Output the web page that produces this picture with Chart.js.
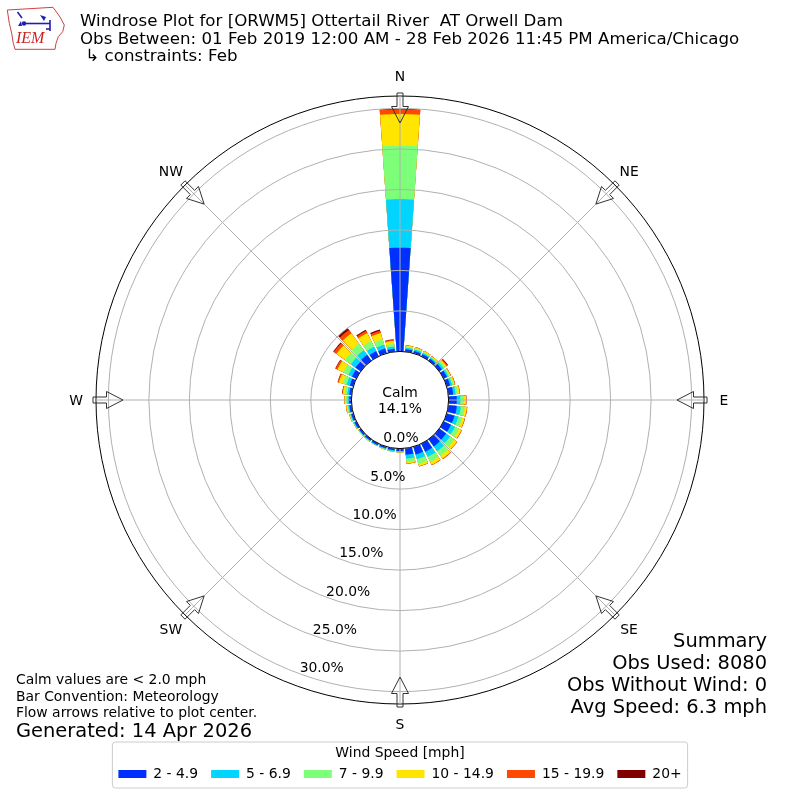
<!DOCTYPE html>
<html>
<head>
<meta charset="utf-8">
<script src="https://cdn.jsdelivr.net/npm/chart.js@4.4.1/dist/chart.umd.min.js"></script>
<style>
html,body{margin:0;padding:0;background:#ffffff;}
#c{display:block;}
</style>
</head>
<body>
<canvas id="c" width="800" height="800"></canvas>
<script>
// ---------------- DATA ----------------
const dirDeg = [0,10,20,30,40,50,60,70,80,90,100,110,120,130,140,150,160,170,180,190,200,210,220,230,240,250,260,270,280,290,300,310,320,330,340,350];
const speedBins = ['2 - 4.9','5 - 6.9','7 - 9.9','10 - 14.9','15 - 19.9','20+'];
const binColors = ['#0030ff','#00d4ff','#7dff7a','#ffe500','#ff4800','#800000'];
// percent of observations per direction (non-cumulative)
const pct2to5   = [12.8,0.30,0.30,0.30,0.30,0.40,0.45,0.45,0.60,1.00,1.05,1.00,1.00,1.05,1.10,1.10,1.00,0.80,0.30,0.25,0.22,0.22,0.22,0.22,0.25,0.25,0.28,0.28,0.30,0.45,0.60,0.80,0.90,0.70,0.60,0.35];
const pct5to7   = [6.0,0.20,0.20,0.16,0.15,0.25,0.20,0.25,0.30,0.45,0.50,0.50,0.55,0.60,0.70,0.70,0.60,0.50,0.10,0.10,0.10,0.08,0.08,0.08,0.10,0.12,0.15,0.20,0.25,0.40,0.50,0.70,0.70,0.60,0.50,0.30];
const pct7to10  = [6.6,0.15,0.15,0.14,0.13,0.25,0.18,0.20,0.30,0.45,0.48,0.50,0.55,0.65,0.70,0.70,0.60,0.40,0.06,0.05,0.05,0.04,0.04,0.04,0.05,0.08,0.14,0.20,0.30,0.50,0.70,0.90,1.00,0.80,0.70,0.35];
const pct10to15 = [3.9,0.13,0.13,0.12,0.10,0.20,0.12,0.15,0.20,0.25,0.28,0.30,0.35,0.40,0.45,0.40,0.30,0.20,0.02,0.02,0.02,0.02,0.02,0.02,0.03,0.06,0.12,0.18,0.25,0.50,0.80,1.30,1.60,1.10,0.80,0.35];
const pct15to20 = [0.6,0.02,0.02,0.03,0.02,0.15,0.05,0.05,0.05,0.05,0.05,0.05,0.05,0.05,0.08,0.05,0.05,0.03,0,0,0,0,0,0,0,0.01,0.03,0.05,0.08,0.15,0.25,0.40,0.50,0.30,0.30,0.15];
const pct20plus = [0.05,0,0,0,0,0.08,0,0,0,0,0,0,0,0,0,0,0,0,0,0,0,0,0,0,0,0,0,0,0.02,0.02,0.05,0.10,0.30,0.14,0.15,0.05];
const calmPercent = 14.1;
const radialTicks = [0,5,10,15,20,25,30];
const compassLabels = ['N','NE','E','SE','S','SW','W','NW'];

const titleLines = [
  'Windrose Plot for [ORWM5] Ottertail River  AT Orwell Dam',
  'Obs Between: 01 Feb 2019 12:00 AM - 28 Feb 2026 11:45 PM America/Chicago',
  ' \u21b3 constraints: Feb'
];
const noteLines = ['Calm values are < 2.0 mph','Bar Convention: Meteorology','Flow arrows relative to plot center.'];
const generatedText = 'Generated: 14 Apr 2026';
const summaryLines = ['Summary','Obs Used: 8080','Obs Without Wind: 0','Avg Speed: 6.3 mph'];

// ---------------- BUILD ----------------
const FONT = "'DejaVu Sans', sans-serif";
const R_MIN = -6, R_MAX = 31.53;
const BAR_DEG = 8, GAP_DEG = 2;
const series = [pct2to5, pct5to7, pct7to10, pct10to15, pct15to20, pct20plus];

// cumulative stack per direction
const cumulative = series.map((s, k) => dirDeg.map((_, d) => {
  let t = 0; for (let j = 0; j <= k; j++) t += series[j][d]; return t;
}));

// slots: half of N bar, gap, then (bar, gap) for each other direction, other half of N bar
function toSlots(vals) {
  const out = [vals[0], R_MIN];
  for (let d = 1; d < vals.length; d++) { out.push(vals[d]); out.push(R_MIN); }
  out.push(vals[0]);
  return out;
}
function slotAngle(i, n) {
  if (i === 0 || i === n - 1) return BAR_DEG / 2;
  return (i % 2 === 1) ? GAP_DEG : BAR_DEG;
}

const datasets = cumulative.map((vals, k) => {
  const data = toSlots(vals);
  return {
    label: speedBins[k],
    data: data,
    backgroundColor: binColors[k],
    borderWidth: 0,
    angle: (c) => slotAngle(c.dataIndex, data.length)
  };
});

function txt(ctx, s, x, y, size, align, color, family, style) {
  ctx.font = (style || '') + ' ' + size + 'px ' + (family || FONT);
  ctx.textAlign = align || 'left';
  ctx.textBaseline = 'alphabetic';
  ctx.fillStyle = color || '#000';
  ctx.fillText(s, x, y);
}

function drawLogo(ctx) {
  ctx.save();
  ctx.strokeStyle = '#d04040';
  ctx.lineWidth = 1;
  const pts = [[7.3,10],[53,7.3],[55,10],[60,17],[64.3,25],[62.7,31.7],[58.3,36.7],[56,43.3],[55,49.3],[15,49.3],[13.3,43.3],[11.7,33.3],[9.3,23.3]];
  ctx.beginPath();
  pts.forEach((p, i) => i ? ctx.lineTo(p[0], p[1]) : ctx.moveTo(p[0], p[1]));
  ctx.closePath();
  ctx.stroke();
  ctx.strokeStyle = '#2020b0';
  ctx.fillStyle = '#2020b0';
  ctx.lineWidth = 1.6;
  ctx.beginPath(); ctx.moveTo(24, 23.5); ctx.lineTo(50, 23.5); ctx.stroke();
  ctx.beginPath(); ctx.moveTo(17.5, 12); ctx.lineTo(22, 18); ctx.stroke();
  ctx.beginPath(); ctx.arc(24, 23.5, 2.2, 0, Math.PI * 2); ctx.fill();
  ctx.beginPath(); ctx.moveTo(18, 26); ctx.lineTo(21, 21); ctx.lineTo(22, 26); ctx.closePath(); ctx.fill();
  ctx.beginPath(); ctx.moveTo(40, 15); ctx.lineTo(46, 17); ctx.lineTo(44, 21); ctx.closePath(); ctx.fill();
  ctx.beginPath(); ctx.moveTo(50, 20); ctx.lineTo(50, 31); ctx.stroke();
  ctx.beginPath(); ctx.moveTo(46, 29); ctx.lineTo(50, 29); ctx.stroke();
  ctx.restore();
  txt(ctx, 'IEM', 16, 43, 16, 'left', '#cc2222', "'Liberation Serif', serif", 'italic');
}

const decorPlugin = {
  id: 'decor',
  beforeDraw(chart) {
    const ctx = chart.ctx;
    const lg = chart.legend;
    if (!lg || !lg.lineWidths) return;
    const pad = 13;
    const LW = lg.lineWidths[0];
    const startX = (lg.left + pad + lg.right - LW) / 2;
    const x0 = startX - 6, x1 = startX + LW - pad + 6;
    const y0 = lg.top + 38, y1 = lg.top + 84;
    const r = 3;
    ctx.save();
    ctx.beginPath();
    ctx.moveTo(x0 + r, y0);
    ctx.arcTo(x1, y0, x1, y1, r);
    ctx.arcTo(x1, y1, x0, y1, r);
    ctx.arcTo(x0, y1, x0, y0, r);
    ctx.arcTo(x0, y0, x1, y0, r);
    ctx.closePath();
    ctx.fillStyle = '#ffffff';
    ctx.fill();
    ctx.strokeStyle = '#cccccc';
    ctx.lineWidth = 1;
    ctx.stroke();
    ctx.restore();
  },
  afterDraw(chart) {
    const ctx = chart.ctx;
    const sc = chart.scales.r;
    const cx = sc.xCenter, cy = sc.yCenter;
    const r0 = sc.getDistanceFromCenterForValue(0);
    ctx.save();
    // calm circle
    ctx.beginPath();
    ctx.arc(cx, cy, r0, 0, Math.PI * 2);
    ctx.fillStyle = '#ffffff';
    ctx.fill();
    ctx.strokeStyle = '#000000';
    ctx.lineWidth = 1;
    ctx.stroke();
    txt(ctx, 'Calm', cx, cy - 3, 13.9, 'center');
    txt(ctx, calmPercent.toFixed(1) + '%', cx, cy + 13, 13.9, 'center');

    // radial tick labels
    const d0 = sc.getDistanceFromCenterForValue(radialTicks[0]);
    const dN = sc.getDistanceFromCenterForValue(radialTicks[radialTicks.length - 1]);
    radialTicks.forEach((v) => {
      const f = (sc.getDistanceFromCenterForValue(v) - d0) / (dN - d0);
      const x = cx + 1 - 79.3 * f;
      const y = cy + 37.3 + 230 * f;
      txt(ctx, v.toFixed(1) + '%', x, y + 5, 13.9, 'center');
    });

    // flow arrows + compass labels
    const rMax = sc.getDistanceFromCenterForValue(R_MAX);
    compassLabels.forEach((lab, i) => {
      const p = sc.getPointPosition(i, 1);
      const ux = p.x - cx, uy = p.y - cy;
      const vx = -uy, vy = ux;
      const P = (r, w) => [cx + ux * r + vx * w, cy + uy * r + vy * w];
      const shape = [P(rMax + 3, -3), P(rMax - 10.5, -3), P(rMax - 10.5, -8.5), P(rMax - 27, 0), P(rMax - 10.5, 8.5), P(rMax - 10.5, 3), P(rMax + 3, 3)];
      ctx.beginPath();
      shape.forEach((q, j) => j ? ctx.lineTo(q[0], q[1]) : ctx.moveTo(q[0], q[1]));
      ctx.closePath();
      ctx.strokeStyle = '#333333';
      ctx.lineWidth = 1;
      ctx.stroke();
      const lp = sc.getPointPosition(i, rMax + 20);
      txt(ctx, lab, lp.x, lp.y + 5, 13.9, 'center');
    });

    // header
    drawLogo(ctx);
    txt(ctx, titleLines[0], 80, 26, 16.67);
    txt(ctx, titleLines[1], 80, 44, 16.67);
    txt(ctx, titleLines[2], 80, 61, 16.67);

    // footer notes
    txt(ctx, noteLines[0], 16, 684, 13.9);
    txt(ctx, noteLines[1], 16, 701, 13.9);
    txt(ctx, noteLines[2], 16, 717, 13.9);
    txt(ctx, generatedText, 16, 737, 19.44);

    // summary
    summaryLines.forEach((s, i) => txt(ctx, s, 767, 647 + 22 * i, 19.44, 'right'));
    ctx.restore();
  }
};

Chart.defaults.font.family = FONT;
Chart.defaults.color = '#000';

new Chart(document.getElementById('c'), {
  type: 'polarArea',
  data: { labels: compassLabels, datasets: datasets },
  options: {
    responsive: false,
    animation: false,
    events: [],
    layout: { padding: { left: 96, right: 96, top: 96, bottom: 9.05 } },
    plugins: {
      tooltip: { enabled: false },
      legend: {
        position: 'bottom',
        onClick: null,
        title: {
          display: true,
          text: 'Wind Speed [mph]',
          color: '#000',
          font: { family: FONT, size: 13.9 },
          padding: { top: 42.05, bottom: -8.68 }
        },
        labels: {
          boxWidth: 28,
          boxHeight: 8,
          padding: 13,
          color: '#000',
          font: { family: FONT, size: 13.9 },
          generateLabels: (chart) => chart.data.datasets.map((ds, i) => ({
            text: ds.label,
            fillStyle: ds.backgroundColor,
            strokeStyle: ds.backgroundColor,
            lineWidth: 0,
            hidden: false,
            datasetIndex: i,
            fontColor: '#000'
          }))
        }
      }
    },
    scales: {
      r: {
        type: 'radialLinear',
        min: R_MIN,
        max: R_MAX,
        startAngle: 0,
        afterBuildTicks: (scale) => {
          scale.ticks = radialTicks.concat([R_MAX]).map((v) => ({ value: v }));
        },
        ticks: { display: false },
        pointLabels: { display: false },
        grid: {
          circular: true,
          z: 1,
          color: (c) => (c.tick && c.tick.value === R_MAX) ? '#000000' : '#b0b0b0',
          lineWidth: 1
        },
        angleLines: { display: true, color: '#b0b0b0', lineWidth: 1 }
      }
    }
  },
  plugins: [decorPlugin]
});
</script>
</body>
</html>
